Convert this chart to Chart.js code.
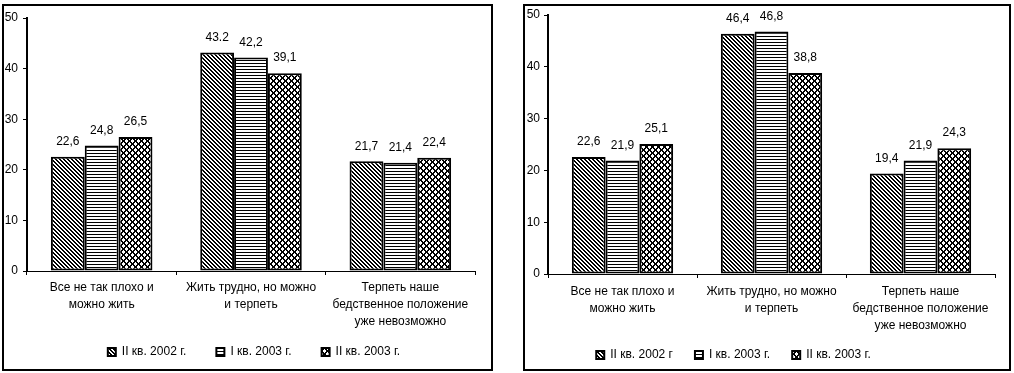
<!DOCTYPE html>
<html>
<head>
<meta charset="utf-8">
<script src="https://cdn.jsdelivr.net/npm/chart.js@4.4.1/dist/chart.umd.min.js"></script>
<style>
  html, body { margin: 0; padding: 0; background: #fff; }
  body { position: relative; width: 1014px; height: 373px; overflow: hidden; }
  canvas { position: absolute; top: 0; display: block; }
  #leftChart { left: 0; }
  #rightChart { left: 505px; }
  .frame { position: absolute; box-sizing: border-box; border: 2px solid #000; background: transparent; pointer-events: none; }
  #leftFrame { left: 2px; top: 4px; width: 491px; height: 367px; }
  #rightFrame { left: 523px; top: 4px; width: 488px; height: 367px; }
</style>
</head>
<body>
<canvas id="leftChart" width="500" height="373"></canvas>
<canvas id="rightChart" width="509" height="373"></canvas>
<div class="frame" id="leftFrame"></div>
<div class="frame" id="rightFrame"></div>
<script>
// Answer categories (x axis)
const categories = [
  ['Все не так плохо и', 'можно жить'],
  ['Жить трудно, но можно', 'и терпеть'],
  ['Терпеть наше', 'бедственное положение', 'уже невозможно']
];
const yTicks = [0, 10, 20, 30, 40, 50];

// First survey block, % of respondents
const leftSeriesNames = ['II кв. 2002 г.', 'I кв. 2003 г.', 'II кв. 2003 г.'];
const leftQ2_2002 = ['22,6', '43.2', '21,7'];
const leftQ1_2003 = ['24,8', '42,2', '21,4'];
const leftQ2_2003 = ['26,5', '39,1', '22,4'];

// Second survey block, % of respondents
const rightSeriesNames = ['II кв. 2002 г', 'I кв. 2003 г.', 'II кв. 2003 г.'];
const rightQ2_2002 = ['22,6', '46,4', '19,4'];
const rightQ1_2003 = ['21,9', '46,8', '21,9'];
const rightQ2_2003 = ['25,1', '38,8', '24,3'];

const toNumber = s => parseFloat(s.replace(',', '.'));

Chart.defaults.font.family = '"Liberation Sans", Arial, sans-serif';
Chart.defaults.color = '#000';

// Monochrome hatch fills built from small pixel tiles
function makeTile(w, h, paint) {
  const c = document.createElement('canvas');
  c.width = w; c.height = h;
  const x = c.getContext('2d');
  x.fillStyle = '#fff';
  x.fillRect(0, 0, w, h);
  x.fillStyle = '#000';
  paint((px, py) => x.fillRect(((px % w) + w) % w, ((py % h) + h) % h, 1, 1), w, h);
  return x.createPattern(c, 'repeat');
}
const hatchDiagonal = () => makeTile(4, 4, (dot, w) => {
  for (let i = 0; i < w; i++) { dot(i, i); dot(i + 1, i); }
});
const hatchHorizontal = () => makeTile(4, 3, (dot, w) => {
  for (let i = 0; i < w; i++) dot(i, 0);
});
const hatchCross = () => makeTile(6, 6, (dot, w) => {
  for (let i = 0; i < w; i++) { dot(i, i); dot(i + 1, i); dot(w - 1 - i, i); dot(w - i, i); }
});

// Value text above each bar
const valueLabels = {
  id: 'valueLabels',
  afterDatasetsDraw(chart) {
    const ctx = chart.ctx;
    ctx.save();
    ctx.font = '12px "Liberation Sans", Arial, sans-serif';
    ctx.fillStyle = '#000';
    ctx.textAlign = 'center';
    ctx.textBaseline = 'middle';
    chart.data.datasets.forEach((ds, di) => {
      chart.getDatasetMeta(di).data.forEach((bar, i) => {
        ctx.fillText(ds.valueText[i], bar.x, bar.y - 15);
      });
    });
    ctx.restore();
  }
};

// Moves the legend row after layout so it can sit close under the three-line labels;
// its box is stretched to the canvas bottom so the row is not clipped
const legendShift = {
  id: 'legendShift',
  afterLayout(chart, args, opts) {
    const lg = chart.legend;
    if (!lg) return;
    lg.left += opts.dx || 0;
    lg.right += opts.dx || 0;
    lg.top += opts.dy || 0;
    lg.bottom = chart.height;
    lg.height = lg.bottom - lg.top;
  }
};

function makeChart(id, names, series, g) {
  const fills = [hatchDiagonal(), hatchHorizontal(), hatchCross()];
  return new Chart(document.getElementById(id), {
    type: 'bar',
    data: {
      labels: categories,
      datasets: series.map((vals, i) => ({
        label: names[i],
        data: vals.map(toNumber),
        valueText: vals,
        backgroundColor: fills[i],
        borderColor: '#000',
        borderWidth: 2,
        borderSkipped: false,
        categoryPercentage: 0.68,
        barPercentage: 1
      }))
    },
    options: {
      responsive: false,
      animation: false,
      devicePixelRatio: 1,
      layout: { padding: { left: 0, top: g.top, right: g.right, bottom: g.bottom } },
      scales: {
        x: {
          offset: true,
          grid: { offset: true, drawOnChartArea: false, drawTicks: true, tickLength: 4, color: '#000', lineWidth: 1 },
          border: { display: true, color: '#000', width: 1 },
          ticks: { color: '#000', font: { size: 12, lineHeight: 1.42 }, padding: g.xPad, maxRotation: 0, minRotation: 0, autoSkip: false },
          afterFit: s => { s.height = g.xHeight; }
        },
        y: {
          min: 0,
          max: 50,
          grid: { drawOnChartArea: false, drawTicks: true, tickLength: 4, color: '#000', lineWidth: 1 },
          border: { display: true, color: '#000', width: 2 },
          ticks: { color: '#000', font: { size: 12 }, padding: g.yPad },
          afterBuildTicks: s => { s.ticks = yTicks.map(v => ({ value: v })); },
          afterFit: s => { s.width = g.yWidth; }
        }
      },
      plugins: {
        legend: {
          position: 'bottom',
          fullSize: false,
          maxHeight: 30,
          labels: { boxWidth: 8, boxHeight: 8, padding: g.legendPad, color: '#000', font: { size: 12 } }
        },
        tooltip: { enabled: false },
        legendShift: { dx: g.legendDx, dy: g.legendDy }
      }
    },
    plugins: [valueLabels, legendShift]
  });
}

makeChart('leftChart', leftSeriesNames, [leftQ2_2002, leftQ1_2003, leftQ2_2003], {
  top: 18, right: 25, bottom: 10, yWidth: 27, yPad: 5, xPad: 4, xHeight: 62,
  legendPad: 30, legendDx: 3, legendDy: -17
});
makeChart('rightChart', rightSeriesNames, [rightQ2_2002, rightQ1_2003, rightQ2_2003], {
  top: 15, right: 19, bottom: 7, yWidth: 43, yPad: 4, xPad: 5, xHeight: 62,
  legendPad: 22, legendDx: -38, legendDy: -9
});
</script>
</body>
</html>
